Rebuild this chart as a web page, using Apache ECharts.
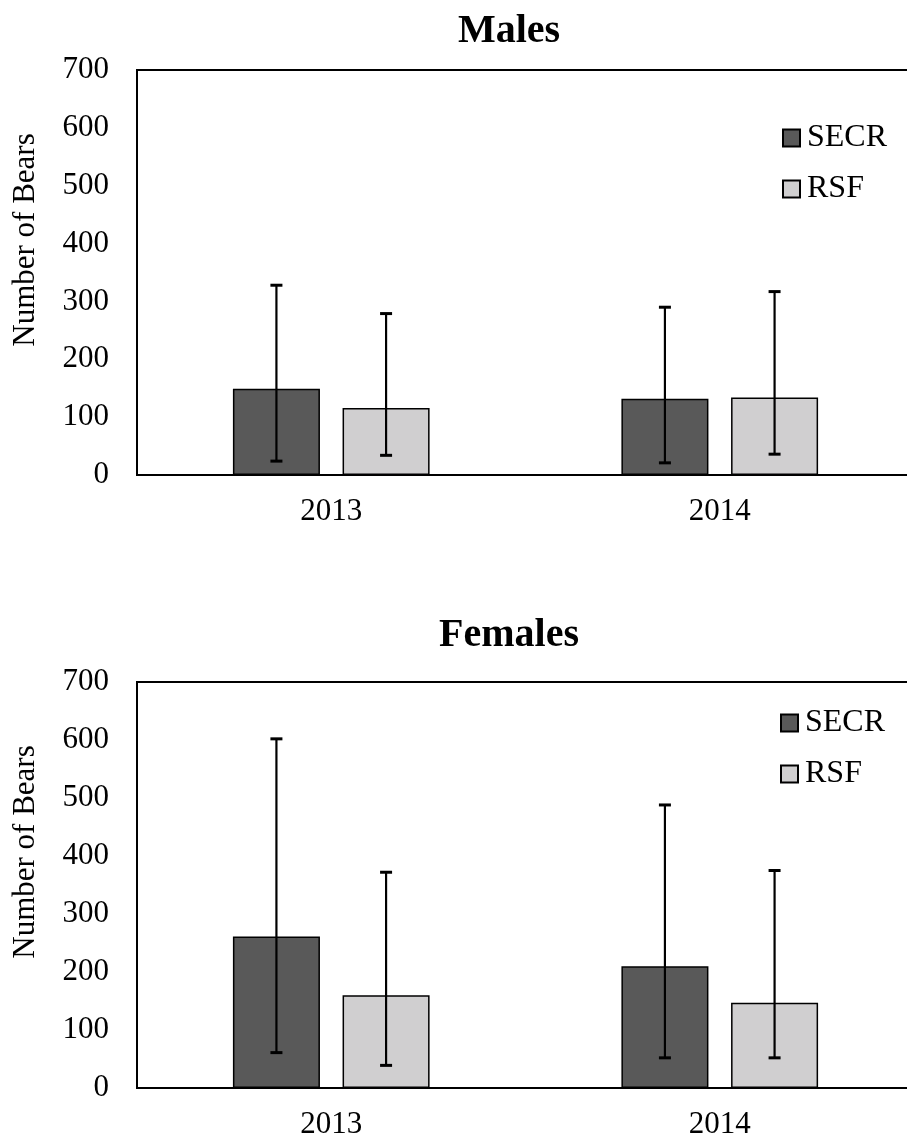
<!DOCTYPE html>
<html>
<head>
<meta charset="utf-8">
<title>Number of Bears</title>
<script src="https://cdn.jsdelivr.net/npm/echarts@6/dist/echarts.min.js"></script>
<style>
  html, body { margin: 0; padding: 0; background: #fff; }
  #chart { width: 907px; height: 1143px; }
</style>
</head>
<body>
<div id="chart"></div>
<script>
// Population estimates by year and method, with confidence limits
const years = ['2013', '2014'];
const yTicks = [0, 100, 200, 300, 400, 500, 600, 700];

const maleSECR = [149, 132];
const maleSECRLow = [24, 21];
const maleSECRHigh = [328, 290];
const maleRSF = [116, 134];
const maleRSFLow = [34, 36];
const maleRSFHigh = [279, 317];

const femaleSECR = [261, 210];
const femaleSECRLow = [61, 52];
const femaleSECRHigh = [602, 488];
const femaleRSF = [160, 147];
const femaleRSFLow = [39, 52];
const femaleRSFHigh = [372, 375];

const FONT = '"Liberation Serif", "Times New Roman", serif';
const BAR_W = 0.224;     // fraction of a category band
const BAR_GAP = 0.26;    // fraction of a bar width

function errRows(low, high) {
  return years.map((y, i) => [i, low[i], high[i]]);
}

function errorBars(name, axis, side, low, high) {
  return {
    type: 'custom',
    name: name,
    xAxisIndex: axis,
    yAxisIndex: axis,
    z: 10,
    silent: true,
    data: errRows(low, high),
    renderItem: function (params, api) {
      const band = api.size([1, 0])[0];
      const off = side * band * (BAR_W + BAR_W * BAR_GAP) / 2;
      const lo = api.coord([api.value(0), api.value(1)]);
      const hi = api.coord([api.value(0), api.value(2)]);
      const x = lo[0] + off;
      const cap = 6;
      const st = { stroke: '#000', lineWidth: 2.2 };
      const cs = { stroke: '#000', lineWidth: 3 };
      return {
        type: 'group',
        children: [
          { type: 'line', shape: { x1: x, y1: lo[1], x2: x, y2: hi[1] }, style: st },
          { type: 'line', shape: { x1: x - cap, y1: hi[1], x2: x + cap, y2: hi[1] }, style: cs },
          { type: 'line', shape: { x1: x - cap, y1: lo[1], x2: x + cap, y2: lo[1] }, style: cs }
        ]
      };
    }
  };
}

function bars(name, axis, values, color) {
  return {
    type: 'bar',
    name: name,
    xAxisIndex: axis,
    yAxisIndex: axis,
    data: values,
    barWidth: (BAR_W * 100) + '%',
    barGap: (BAR_GAP * 100) + '%',
    itemStyle: { color: color, borderColor: '#000', borderWidth: 1.5 },
    emphasis: { disabled: true }
  };
}

function xAxis(grid) {
  return {
    type: 'category',
    gridIndex: grid,
    data: years,
    axisLine: { show: true, lineStyle: { color: '#000', width: 2 } },
    axisTick: { show: false },
    axisLabel: { color: '#000', fontFamily: FONT, fontSize: 31, margin: 21 }
  };
}

function yAxis(grid) {
  return {
    type: 'value',
    gridIndex: grid,
    min: yTicks[0],
    max: yTicks[yTicks.length - 1],
    interval: yTicks[1] - yTicks[0],
    axisLine: { show: true, lineStyle: { color: '#000', width: 2 } },
    axisTick: { show: false },
    splitLine: { show: false },
    axisLabel: { color: '#000', fontFamily: FONT, fontSize: 31, margin: 28 }
  };
}

function legend(left, top) {
  return {
    orient: 'vertical',
    left: left,
    top: top,
    itemWidth: 17,
    itemHeight: 17,
    itemGap: 19,
    icon: 'rect',
    data: ['SECR', 'RSF'],
    selectedMode: false,
    textStyle: { color: '#000', fontFamily: FONT, fontSize: 32, lineHeight: 31, padding: [0, 0, 0, 2] }
  };
}

function grid(top, height) {
  return {
    left: 137, top: top, width: 777, height: height,
    outerBoundsMode: 'none',
    containLabel: false,
    show: true, borderColor: '#000', borderWidth: 2, backgroundColor: 'transparent'
  };
}

const SECR_COLOR = '#595959';
const RSF_COLOR = '#d0cfd0';

const chart = echarts.init(document.getElementById('chart'), null, { renderer: 'canvas' });
chart.setOption({
  backgroundColor: '#fff',
  animation: false,
  title: [
    { text: 'Males', left: 504, top: 7, textAlign: 'center',
      textStyle: { fontFamily: FONT, fontSize: 40, fontWeight: 'bold', color: '#000' } },
    { text: 'Females', left: 504, top: 611, textAlign: 'center',
      textStyle: { fontFamily: FONT, fontSize: 40, fontWeight: 'bold', color: '#000' } }
  ],
  legend: [legend(777, 117), legend(775, 702)],
  grid: [grid(70, 405), grid(682, 406)],
  xAxis: [xAxis(0), xAxis(1)],
  yAxis: [yAxis(0), yAxis(1)],
  graphic: [
    { type: 'text', x: 26, y: 240, rotation: Math.PI / 2,
      style: { text: 'Number of Bears', fontFamily: FONT, fontSize: 31, fill: '#000', align: 'center', verticalAlign: 'middle' } },
    { type: 'text', x: 26, y: 852, rotation: Math.PI / 2,
      style: { text: 'Number of Bears', fontFamily: FONT, fontSize: 31, fill: '#000', align: 'center', verticalAlign: 'middle' } }
  ],
  series: [
    bars('SECR', 0, maleSECR, SECR_COLOR),
    bars('RSF', 0, maleRSF, RSF_COLOR),
    errorBars('SECR limits', 0, -1, maleSECRLow, maleSECRHigh),
    errorBars('RSF limits', 0, 1, maleRSFLow, maleRSFHigh),
    bars('SECR', 1, femaleSECR, SECR_COLOR),
    bars('RSF', 1, femaleRSF, RSF_COLOR),
    errorBars('SECR limits', 1, -1, femaleSECRLow, femaleSECRHigh),
    errorBars('RSF limits', 1, 1, femaleRSFLow, femaleRSFHigh)
  ]
});
</script>
</body>
</html>
